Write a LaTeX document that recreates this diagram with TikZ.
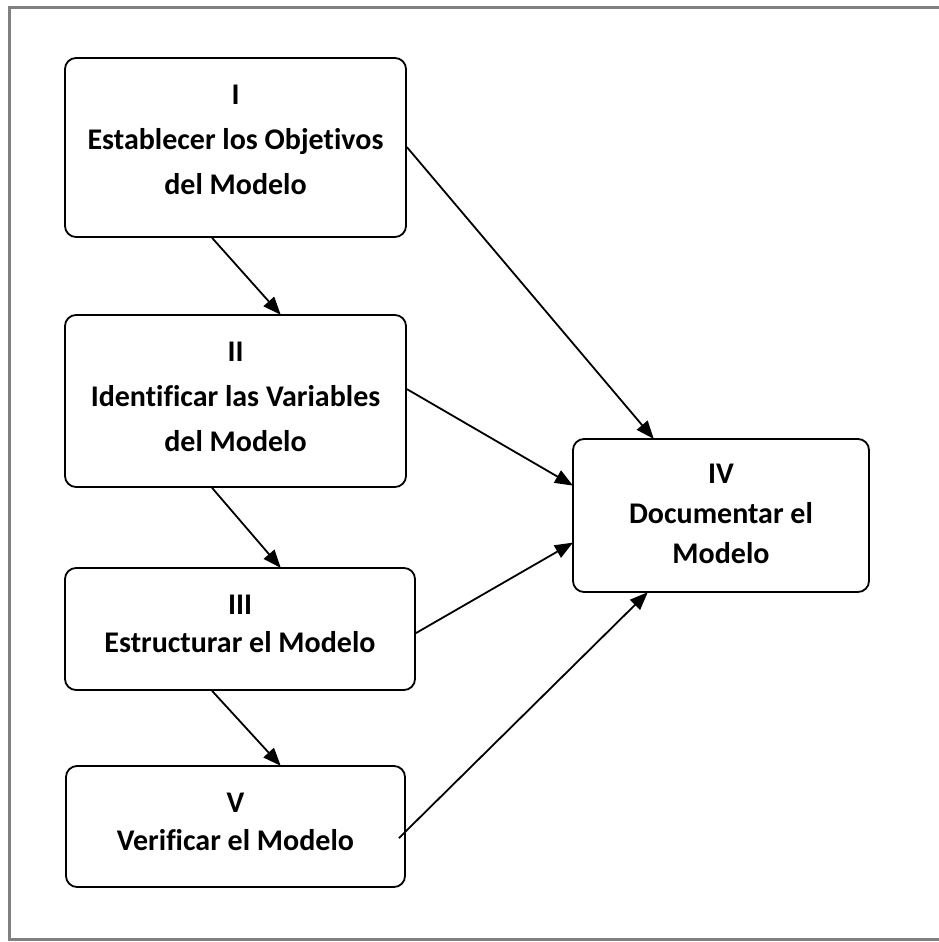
\documentclass[tikz,border=0pt]{standalone}
\usepackage{fontspec}
\setmainfont[Ligatures=NoCommon]{Carlito}
\usetikzlibrary{arrows.meta}
\definecolor{framegray}{HTML}{808080}
\tikzset{
  stage/.style={draw=black, line width=1.8pt, rounded corners=11pt, fill=white, inner sep=0pt},
  caption/.style={align=center, inner sep=0pt, font=\fontsize{30}{#1}\selectfont\bfseries},
  caption/.default=40,
  flow/.style={draw=black, line width=1.8pt, -{Triangle[length=18pt,width=14pt]}, shorten >=-1pt},
  border/.style={draw=framegray, line width=3pt}
}
\begin{document}
\begin{tikzpicture}[x=1pt, y=-1pt]
\useasboundingbox (0,0) rectangle (939,942);
% open frame: left, top and bottom edges
\draw[border] (939,8) -- (9.5,8) -- (9.5,939.5) -- (939,939.5);

% stage boxes
\node[stage, minimum width=341pt, minimum height=179pt] (s1) at (235.5,147.5) {};
\node[stage, minimum width=341pt, minimum height=172pt] (s2) at (235.5,401) {};
\node[stage, minimum width=350pt, minimum height=122pt] (s3) at (240,629) {};
\node[stage, minimum width=339pt, minimum height=121pt] (s5) at (235.5,826.5) {};
\node[stage, minimum width=296pt, minimum height=153pt] (s4) at (721,515.5) {};

% stage captions
\node[caption=45] (c1) at ([yshift=8pt]s1.center) {I\\Establecer los Objetivos\\del Modelo};
\node[caption=45] (c2) at ([yshift=4pt]s2.center) {II\\Identificar las Variables\\del Modelo};
\node[caption=38] (c3) at ([yshift=5pt]s3.center) {III\\Estructurar el Modelo};
\node[caption=38] (c5) at ([yshift=5pt]s5.center) {V\\Verificar el Modelo};
\node[caption=40] (c4) at ([yshift=2pt]s4.center) {IV\\Documentar el\\Modelo};

% vertical chain
\draw[flow] ([xshift=148pt]s1.south west) -- ([xshift=216pt]s2.north west);
\draw[flow] ([xshift=148pt]s2.south west) -- ([xshift=216pt]s3.north west);
\draw[flow] ([xshift=148pt]s3.south west) -- ([xshift=215pt]s5.north west);

% everything feeds the documentation stage
\draw[flow] ([yshift=-90pt]s1.north east) -- ([xshift=81pt]s4.north west);
\draw[flow] ([yshift=-75pt]s2.north east) -- ([yshift=-47pt]s4.north west);
\draw[flow] ([yshift=-66pt]s3.north east) -- ([yshift=-105pt]s4.north west);
\draw[flow] ([xshift=-7pt,yshift=-73pt]s5.north east) -- ([xshift=75pt]s4.south west);
\end{tikzpicture}
\end{document}
